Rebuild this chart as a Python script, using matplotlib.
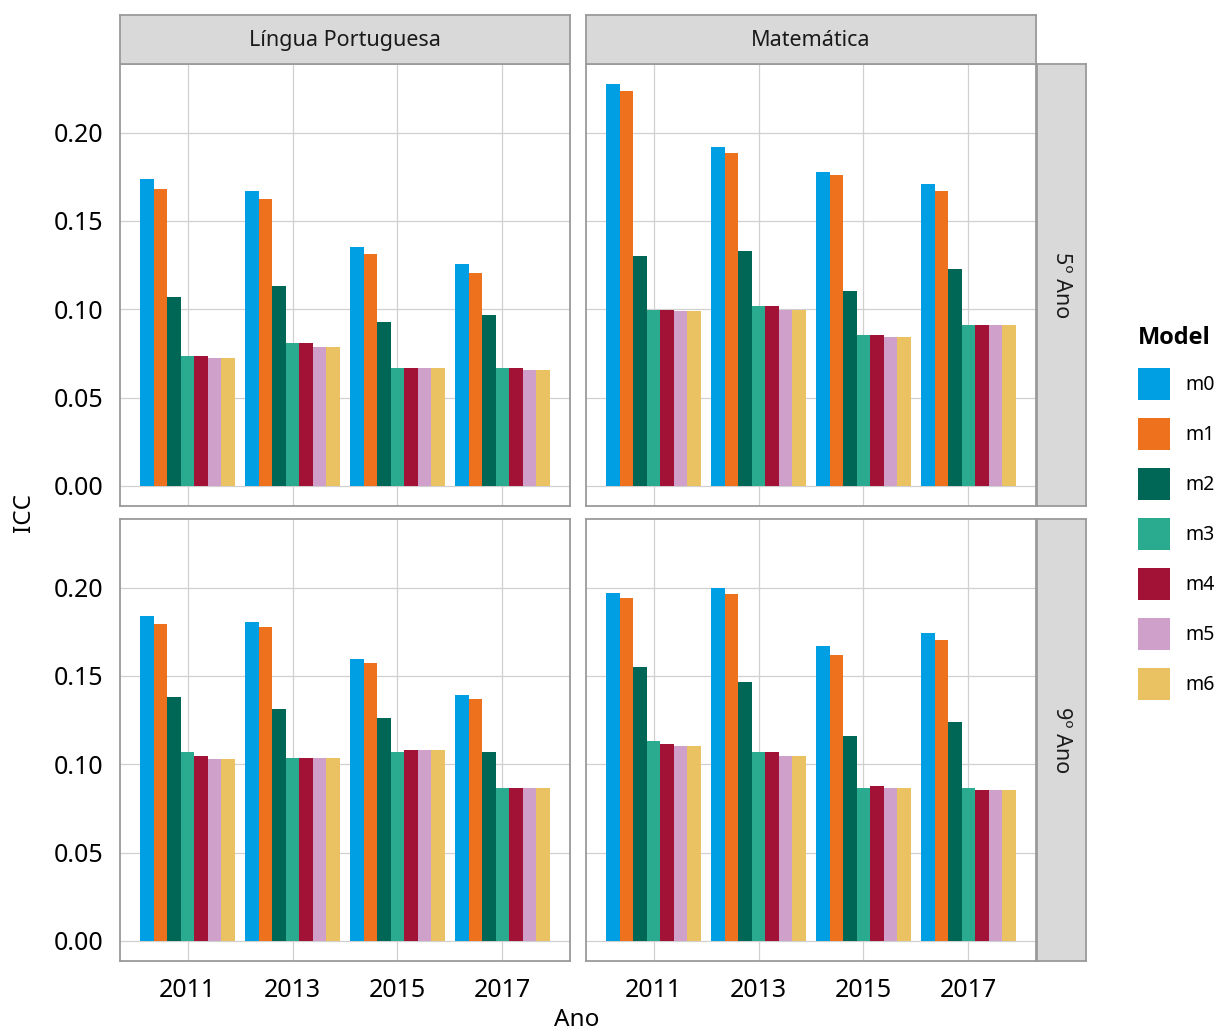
import numpy as np
import matplotlib
matplotlib.use("Agg")
import matplotlib.pyplot as plt
from matplotlib.patches import Patch

plt.rcParams['font.family'] = ['Noto Sans', 'DejaVu Sans']

anos = [2011, 2013, 2015, 2017]
modelos = ['m0', 'm1', 'm2', 'm3', 'm4', 'm5', 'm6']
cores = ['#009FE3', '#EE721E', '#006655', '#2AAA8E', '#A21237', '#CEA0CA', '#EAC261']

disciplinas = ['Língua Portuguesa', 'Matemática']
series = ['5º Ano', '9º Ano']

# ICC por modelo (linhas) e ano (colunas)
icc_lp_5 = [
    [0.1735, 0.1667, 0.1354, 0.1257],
    [0.1680, 0.1627, 0.1314, 0.1206],
    [0.1070, 0.1132, 0.0927, 0.0967],
    [0.0734, 0.0808, 0.0666, 0.0666],
    [0.0734, 0.0808, 0.0666, 0.0666],
    [0.0722, 0.0785, 0.0666, 0.0655],
    [0.0722, 0.0785, 0.0666, 0.0655],
]
icc_mt_5 = [
    [0.2275, 0.1917, 0.1780, 0.1712],
    [0.2236, 0.1883, 0.1758, 0.1667],
    [0.1303, 0.1331, 0.1104, 0.1229],
    [0.0997, 0.1018, 0.0853, 0.0910],
    [0.0997, 0.1018, 0.0853, 0.0910],
    [0.0990, 0.0997, 0.0842, 0.0910],
    [0.0990, 0.0997, 0.0842, 0.0910],
]
icc_lp_9 = [
    [0.1837, 0.1803, 0.1598, 0.1394],
    [0.1797, 0.1780, 0.1576, 0.1371],
    [0.1383, 0.1314, 0.1263, 0.1070],
    [0.1070, 0.1036, 0.1070, 0.0866],
    [0.1047, 0.1036, 0.1081, 0.0866],
    [0.1030, 0.1036, 0.1081, 0.0866],
    [0.1030, 0.1036, 0.1081, 0.0866],
]
icc_mt_9 = [
    [0.1968, 0.1996, 0.1667, 0.1741],
    [0.1939, 0.1962, 0.1621, 0.1706],
    [0.1553, 0.1468, 0.1161, 0.1241],
    [0.1133, 0.1070, 0.0866, 0.0866],
    [0.1116, 0.1070, 0.0877, 0.0854],
    [0.1104, 0.1047, 0.0866, 0.0854],
    [0.1104, 0.1047, 0.0866, 0.0854],
]
dados = {(0, 0): icc_lp_5, (0, 1): icc_mt_5, (1, 0): icc_lp_9, (1, 1): icc_mt_9}

W, H = 1219, 1032
fig = plt.figure(figsize=(W / 100, H / 100), dpi=100)

def caixa(x0, y0, x1, y1):
    # coordenadas em pixels (origem no topo) -> fracao da figura
    return [x0 / W, 1 - y1 / H, (x1 - x0) / W, (y1 - y0) / H]

col_x = [(120, 570), (586, 1036)]
lin_y = [(64, 506), (519, 961)]

vmax = max(max(max(l) for l in d) for d in dados.values())
ylim = (-0.05 * vmax, 1.05 * vmax)
largura_grupo = 1.8
xlim = (2011 - 0.9 - 0.39, 2017 + 0.9 + 0.39)
larg = largura_grupo / len(modelos)
x = np.array(anos, dtype=float)

borda = '#9A9A9A'
for i in range(2):
    for j in range(2):
        ax = fig.add_axes(caixa(col_x[j][0], lin_y[i][0], col_x[j][1], lin_y[i][1]))
        valores = dados[(i, j)]
        for k, m in enumerate(modelos):
            offs = -largura_grupo / 2 + larg * (k + 0.5)
            ax.bar(x + offs, valores[k], width=larg, color=cores[k], linewidth=0, zorder=2)
        ax.set_xlim(xlim)
        ax.set_ylim(ylim)
        ax.set_xticks(anos)
        ax.set_yticks([0, 0.05, 0.10, 0.15, 0.20])
        ax.grid(True, color='#D0D0D0', linewidth=0.9, zorder=0)
        ax.set_axisbelow(True)
        for s in ax.spines.values():
            s.set_color(borda)
            s.set_linewidth(1.3)
        ax.tick_params(length=0, labelsize=18, colors='black', pad=12)
        if j == 0:
            ax.set_yticklabels(['0.00', '0.05', '0.10', '0.15', '0.20'])
        else:
            ax.set_yticklabels([])
        if i == 0:
            ax.set_xticklabels([])

# faixas das facetas
for j in range(2):
    sx = fig.add_axes(caixa(col_x[j][0], 15, col_x[j][1], 64))
    sx.set_facecolor('#D9D9D9')
    sx.set_xticks([])
    sx.set_yticks([])
    for s in sx.spines.values():
        s.set_color(borda)
        s.set_linewidth(1.3)
    sx.text(0.5, 0.48, disciplinas[j], ha='center', va='center', fontsize=15.5,
            color='#1A1A1A', transform=sx.transAxes)

for i in range(2):
    sy = fig.add_axes(caixa(1037, lin_y[i][0], 1086, lin_y[i][1]))
    sy.set_facecolor('#D9D9D9')
    sy.set_xticks([])
    sy.set_yticks([])
    for s in sy.spines.values():
        s.set_color(borda)
        s.set_linewidth(1.3)
    sy.text(0.5, 0.5, series[i], ha='center', va='center', fontsize=15.5,
            color='#1A1A1A', rotation=-90, transform=sy.transAxes)

fig.text(24 / W, 1 - 512 / H, 'ICC', rotation=90, ha='center', va='center', fontsize=17.5)
fig.text(577 / W, 1 - 1020 / H, 'Ano', ha='center', va='center', fontsize=17.5)

handles = [Patch(facecolor=c, edgecolor='none') for c in cores]
leg = fig.legend(handles, modelos, loc='upper left', bbox_to_anchor=(1120 / W, 1 - 308 / H),
                 frameon=False, fontsize=14, title='Model',
                 title_fontproperties={'family': ['Open Sans', 'Noto Sans'],
                                       'weight': 'bold', 'size': 17},
                 handlelength=1.65, handleheight=2.15, labelspacing=0.93, handletextpad=0.8,
                 alignment='left')

fig.savefig('out.png', dpi=100)
